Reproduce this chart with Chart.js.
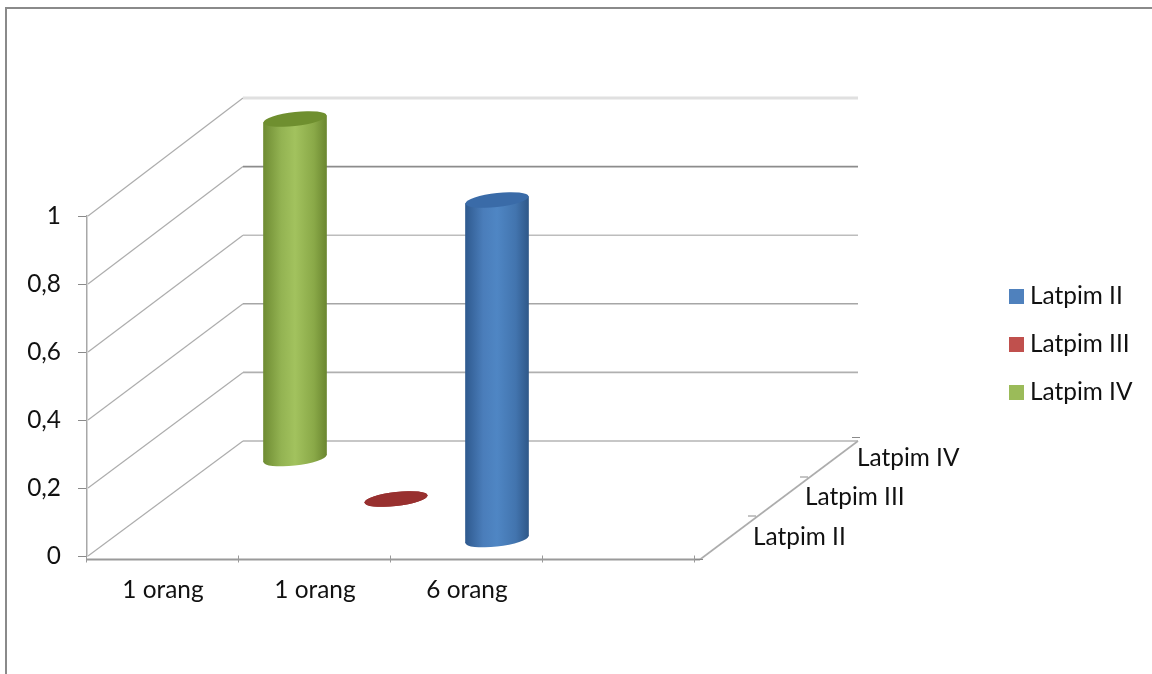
<!DOCTYPE html>
<html>
<head>
<meta charset="utf-8">
<style>html,body{margin:0;padding:0;background:#fff}canvas{display:block}</style>
<script src="https://cdn.jsdelivr.net/npm/chart.js@4"></script>
</head>
<body>
<canvas id="c" width="1152" height="674"></canvas>
<script>
const categories = ['1 orang', '1 orang', '6 orang', ''];
const depthLabels = ['Latpim II', 'Latpim III', 'Latpim IV'];
const latpimII = [null, null, 1, null];
const latpimIII = [null, 0, null, null];
const latpimIV = [1, null, null, null];
const yTicks = [0, 0.2, 0.4, 0.6, 0.8, 1];

const FONT_SIZE = 24.4;
const FONT = FONT_SIZE + 'px Lato';
const TEXT = '#111';
const WALL = { dx: 157, baseY: 441, scale: 343 / 340 };
const ROW = [{ dx: 30, dy: -16 }, { dx: 81, dy: -57 }, { dx: 132, dy: -97 }];
const BAR_W = 63, CAP_RY = 7, SHEAR = 0.11;
const LEGEND_COLORS = ['#4f81bd', '#c0504d', '#9bbb59'];
const CAP_COLORS = ['#3a6ba8', '#98302f', '#6f8f2f'];
const GRAD = [
  ['#2f5a8f', '#4a7dba', '#4f86c4', '#4274ae', '#2f5889'],
  ['#98302f', '#98302f', '#98302f', '#98302f', '#98302f'],
  ['#6f8c33', '#93b352', '#a2c25e', '#8aa948', '#6b8730']
];
const GRID_COLORS = ['#b4b4b4', '#b0b0b0', '#a6a6a6', '#bdbdbd', '#8c8c8c', '#e0e0e0'];

function bodyFill(di) {
  return function (ctx) {
    const chart = ctx.chart, x = chart.scales.x;
    if (!x) return LEGEND_COLORS[di];
    const cx = x.getPixelForValue(ctx.dataIndex);
    if (!Number.isFinite(cx)) return LEGEND_COLORS[di];
    const g = chart.ctx.createLinearGradient(cx - BAR_W / 2, 0, cx + BAR_W / 2, 0);
    GRAD[di].forEach((c, i) => g.addColorStop([0, 0.28, 0.5, 0.8, 1][i], c));
    return g;
  };
}

const scene = {
  id: 'scene',
  beforeDraw(chart) {
    const c = chart.ctx;
    c.save();
    c.fillStyle = '#fff';
    c.fillRect(0, 0, chart.width, chart.height);
    c.strokeStyle = '#8a8a8a';
    c.lineWidth = 2;
    c.beginPath();
    c.moveTo(6, chart.height);
    c.lineTo(6, 8);
    c.lineTo(chart.width, 8);
    c.stroke();
    c.restore();
  },
  beforeDatasetsDraw(chart) {
    const c = chart.ctx, x = chart.scales.x, y = chart.scales.y;
    const l = x.left, r = x.right, y0 = y.getPixelForValue(0);
    c.save();
    yTicks.forEach((v, i) => {
      const py = y.getPixelForValue(v);
      const by = WALL.baseY - (y0 - py) * WALL.scale;
      // side wall diagonal
      c.strokeStyle = '#adadad';
      c.lineWidth = 1.2;
      c.beginPath();
      c.moveTo(l + 1, py);
      c.lineTo(l + WALL.dx - 1, by);
      c.stroke();
      // back wall line
      c.strokeStyle = GRID_COLORS[i];
      c.lineWidth = i === 5 ? 3 : 1.6;
      c.beginPath();
      c.moveTo(l + WALL.dx - 1, by);
      c.lineTo(r + WALL.dx + 6, by);
      c.stroke();
    });
    // floor front edge with its ticks
    const fy = y0 + 3.5;
    c.strokeStyle = '#9a9a9a';
    c.lineWidth = 2;
    c.beginPath();
    c.moveTo(l - 1, fy);
    c.lineTo(r + 5, fy);
    c.stroke();
    c.lineWidth = 1;
    for (let i = 0; i <= categories.length; i++) {
      const tx = Math.round(l + (r - l) * i / categories.length) - 0.5;
      c.beginPath();
      c.moveTo(tx, fy - 4);
      c.lineTo(tx, fy + 3);
      c.stroke();
    }
    // floor right edge
    c.strokeStyle = '#adadad';
    c.lineWidth = 1.6;
    c.beginPath();
    c.moveTo(r + 5, fy);
    c.lineTo(r + WALL.dx + 6, WALL.baseY);
    c.stroke();
    // depth axis ticks and labels
    c.fillStyle = TEXT;
    c.font = FONT;
    c.textBaseline = 'middle';
    c.textAlign = 'left';
    c.strokeStyle = '#8a8a8a';
    c.lineWidth = 1;
    const tickAt = [[695, 559.5], [748, 516], [800, 477], [852, 437.5]];
    tickAt.forEach(t => {
      c.beginPath();
      c.moveTo(t[0], t[1]);
      c.lineTo(t[0] + 8, t[1]);
      c.stroke();
    });
    const labelAt = [[753, 537], [805, 497], [857, 458]];
    depthLabels.forEach((s, i) => c.fillText(s, labelAt[i][0], labelAt[i][1]));
    // legend
    const ly = [296, 344, 392];
    chart.data.datasets.forEach((d, i) => {
      c.fillStyle = LEGEND_COLORS[i];
      c.fillRect(1009, ly[i] - 7, 15, 15);
      c.fillStyle = TEXT;
      c.fillText(d.label, 1030, ly[i]);
    });
    c.restore();
  },
  beforeDatasetDraw(chart, args) {
    const c = chart.ctx, di = args.index, meta = args.meta;
    const el = meta.data.find((e, i) => chart.data.datasets[di].data[i] !== null);
    c.save();
    c.translate(ROW[di].dx, ROW[di].dy);
    c.translate(el.x, 0);
    c.transform(1, -SHEAR, 0, 1, 0, 0);
    c.translate(-el.x, 0);
    // rounded foot of the cylinder, below the bar drawn by the library
    c.fillStyle = el.options.backgroundColor;
    c.beginPath();
    c.ellipse(el.x, el.base, BAR_W / 2, CAP_RY, 0, 0, Math.PI * 2);
    c.fill();
  },
  afterDatasetDraw(chart, args) {
    const c = chart.ctx, di = args.index, meta = args.meta;
    const el = meta.data.find((e, i) => chart.data.datasets[di].data[i] !== null);
    c.fillStyle = CAP_COLORS[di];
    c.beginPath();
    c.ellipse(el.x, el.y, BAR_W / 2, CAP_RY, 0, 0, Math.PI * 2);
    c.fill();
    c.restore();
  }
};

new Chart(document.getElementById('c'), {
  type: 'bar',
  data: {
    labels: categories,
    datasets: [
      { label: depthLabels[0], data: latpimII, backgroundColor: bodyFill(0), clip: false },
      { label: depthLabels[1], data: latpimIII, backgroundColor: bodyFill(1), clip: false },
      { label: depthLabels[2], data: latpimIV, backgroundColor: bodyFill(2), clip: false }
    ]
  },
  options: {
    responsive: false,
    animation: false,
    events: [],
    layout: { padding: { left: 0, top: 216, right: 457, bottom: 0 } },
    datasets: { bar: { grouped: false, barThickness: BAR_W, borderWidth: 0 } },
    plugins: { legend: { display: false }, tooltip: { enabled: false }, title: { display: false } },
    scales: {
      x: {
        grid: { display: false },
        border: { display: false },
        ticks: { color: TEXT, font: { family: 'Lato', size: FONT_SIZE }, padding: 12, autoSkip: false, maxRotation: 0 },
        afterFit(s) { s.height = 118; }
      },
      y: {
        min: 0, max: 1,
        afterBuildTicks(s) { s.ticks = yTicks.map(v => ({ value: v })); },
        grid: { drawOnChartArea: false, drawTicks: true, tickLength: 9, color: '#8a8a8a' },
        border: { display: true, color: '#a8a8a8', width: 1.5 },
        ticks: { color: TEXT, font: { family: 'Lato', size: FONT_SIZE }, padding: 17,
          callback: v => String(v).replace('.', ',') },
        afterFit(s) { s.width = 87; }
      }
    }
  },
  plugins: [scene]
});
</script>
</body>
</html>
